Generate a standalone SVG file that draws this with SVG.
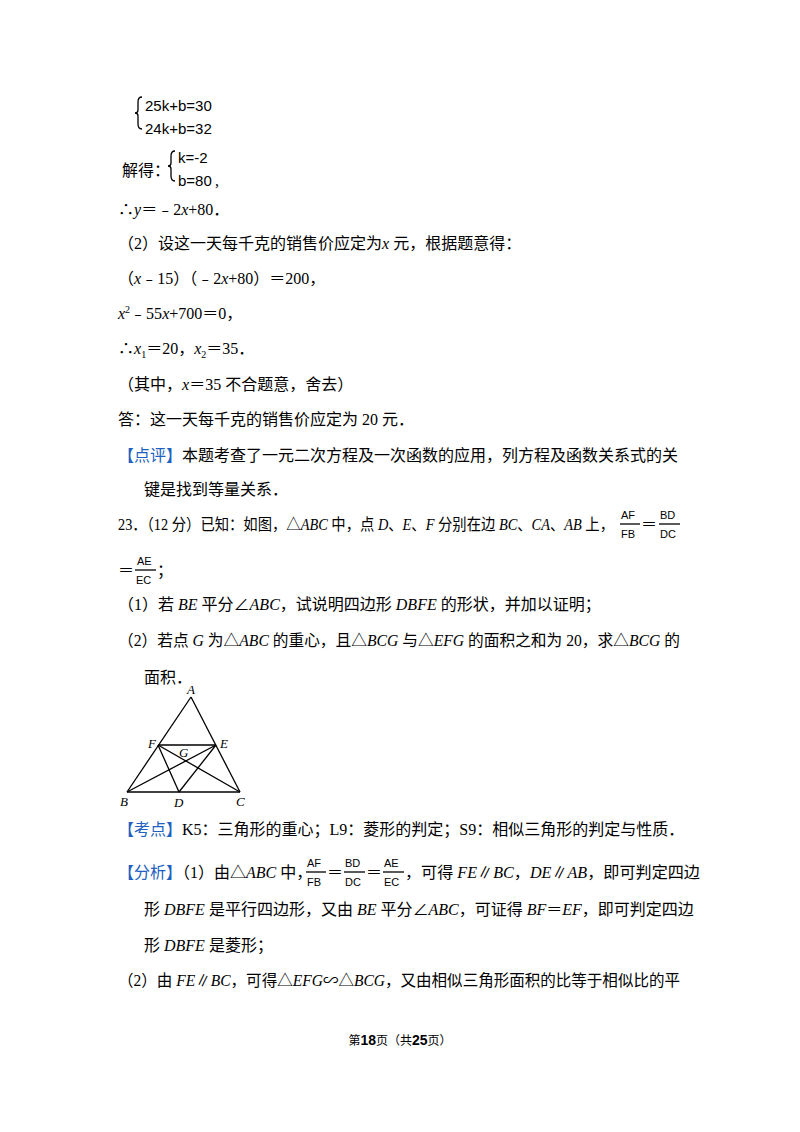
<svg xmlns="http://www.w3.org/2000/svg" width="800" height="1132" viewBox="0 0 800 1132">
<style>
text{font-family:"Liberation Serif","Noto Sans CJK SC",serif;font-size:16px;fill:#000}
.s{font-family:"Liberation Sans","Noto Sans CJK SC",sans-serif;font-size:15px}
.fr{font-family:"Liberation Sans",sans-serif;font-size:11px}
.b{fill:#2060c0}
.f{font-size:12px;font-family:"Liberation Sans","Noto Sans CJK SC",sans-serif}
line,path{stroke:#000;stroke-width:1.3;fill:none}
.lab{font-style:italic;font-size:13px}
</style>
<rect width="800" height="1132" fill="#fff"/>
<path d="M142,97 q-4,0 -4,5 v8 q0,3 -3,3 q3,0 3,3 v8 q0,5 4,5"/>
<text class="s" x="145" y="111">25k+b=30</text>
<text class="s" x="145" y="134">24k+b=32</text>
<text x="122" y="176">解得：</text>
<path d="M175,151 q-4,0 -4,5 v7 q0,3 -3,3 q3,0 3,3 v7 q0,5 4,5"/>
<text class="s" x="178" y="163">k=-2</text>
<text class="s" x="178" y="186">b=80</text><text x="215" y="186">,</text>
<text x="118" y="215">∴<tspan font-style="italic">y</tspan>＝﹣2<tspan font-style="italic">x</tspan>+80．</text>
<text x="118" y="249">（2）设这一天每千克的销售价应定为<tspan font-style="italic">x</tspan> 元，根据题意得：</text>
<text x="118" y="284">（<tspan font-style="italic">x</tspan>﹣15）（﹣2<tspan font-style="italic">x</tspan>+80）＝200，</text>
<text x="118" y="319"><tspan font-style="italic">x</tspan><tspan font-size="10" dy="-6">2</tspan><tspan dy="6">﹣55</tspan><tspan font-style="italic">x</tspan>+700＝0，</text>
<text x="118" y="354">∴<tspan font-style="italic">x</tspan><tspan font-size="10" dy="4">1</tspan><tspan dy="-4">＝20，</tspan><tspan font-style="italic">x</tspan><tspan font-size="10" dy="4">2</tspan><tspan dy="-4">＝35．</tspan></text>
<text x="118" y="390">（其中，<tspan font-style="italic">x</tspan>＝35 不合题意，舍去）</text>
<text x="118" y="425">答：这一天每千克的销售价应定为 20 元．</text>
<text x="118" y="461"><tspan class="b">【点评】</tspan>本题考查了一元二次方程及一次函数的应用，列方程及函数关系式的关</text>
<text x="144" y="495">键是找到等量关系．</text>
<text x="118" y="530" textLength="496" lengthAdjust="spacingAndGlyphs">23．（12 分）已知：如图，△<tspan font-style="italic">ABC</tspan> 中，点 <tspan font-style="italic">D</tspan>、<tspan font-style="italic">E</tspan>、<tspan font-style="italic">F</tspan> 分别在边 <tspan font-style="italic">BC</tspan>、<tspan font-style="italic">CA</tspan>、<tspan font-style="italic">AB</tspan> 上，</text>
<text class="fr" x="621" y="519">AF</text><line x1="620" y1="524" x2="640" y2="524"/><text class="fr" x="621" y="538">FB</text>
<text x="641" y="530">＝</text>
<text class="fr" x="660" y="519">BD</text><line x1="659" y1="524" x2="680" y2="524"/><text class="fr" x="660" y="538">DC</text>
<text x="118" y="576">＝</text>
<text class="fr" x="137" y="565">AE</text><line x1="135" y1="570" x2="156" y2="570"/><text class="fr" x="136" y="584">EC</text>
<text x="157" y="576">；</text>
<text x="118" y="610">（1）若 <tspan font-style="italic">BE</tspan> 平分∠<tspan font-style="italic">ABC</tspan>，试说明四边形 <tspan font-style="italic">DBFE</tspan> 的形状，并加以证明；</text>
<text x="118" y="646" textLength="562" lengthAdjust="spacingAndGlyphs">（2）若点 <tspan font-style="italic">G</tspan> 为△<tspan font-style="italic">ABC</tspan> 的重心，且△<tspan font-style="italic">BCG</tspan> 与△<tspan font-style="italic">EFG</tspan> 的面积之和为 20，求△<tspan font-style="italic">BCG</tspan> 的</text>
<text x="144" y="683">面积．</text>
<g id="figure">
<line x1="191" y1="697" x2="127" y2="792"/>
<line x1="191" y1="697" x2="240" y2="792"/>
<line x1="127" y1="792" x2="240" y2="792"/>
<line x1="158" y1="745" x2="216" y2="745"/>
<line x1="158" y1="745" x2="179" y2="792"/>
<line x1="216" y1="745" x2="179" y2="792"/>
<line x1="127" y1="792" x2="216" y2="745"/>
<line x1="240" y1="792" x2="158" y2="745"/>
<text class="lab" x="187" y="694">A</text>
<text class="lab" x="148" y="748">F</text>
<text class="lab" x="220" y="748">E</text>
<text class="lab" x="179" y="757">G</text>
<text class="lab" x="120" y="806">B</text>
<text class="lab" x="174" y="807">D</text>
<text class="lab" x="236" y="806">C</text>
</g>
<text x="118" y="835"><tspan class="b">【考点】</tspan>K5：三角形的重心；L9：菱形的判定；S9：相似三角形的判定与性质．</text>
<text x="118" y="878"><tspan class="b">【分析】</tspan>（1）由△<tspan font-style="italic">ABC</tspan> 中，</text>
<text class="fr" x="307" y="867">AF</text><line x1="306" y1="872" x2="326" y2="872"/><text class="fr" x="307" y="886">FB</text>
<text x="327" y="878">＝</text>
<text class="fr" x="345" y="867">BD</text><line x1="344" y1="872" x2="365" y2="872"/><text class="fr" x="345" y="886">DC</text>
<text x="366" y="878">＝</text>
<text class="fr" x="384" y="867">AE</text><line x1="383" y1="872" x2="404" y2="872"/><text class="fr" x="384" y="886">EC</text>
<text x="405" y="878" textLength="295" lengthAdjust="spacingAndGlyphs">，可得 <tspan font-style="italic">FE</tspan>∥<tspan font-style="italic">BC</tspan>，<tspan font-style="italic">DE</tspan>∥<tspan font-style="italic">AB</tspan>，即可判定四边</text>
<text x="144" y="915">形 <tspan font-style="italic">DBFE</tspan> 是平行四边形，又由 <tspan font-style="italic">BE</tspan> 平分∠<tspan font-style="italic">ABC</tspan>，可证得 <tspan font-style="italic">BF</tspan>＝<tspan font-style="italic">EF</tspan>，即可判定四边</text>
<text x="144" y="951">形 <tspan font-style="italic">DBFE</tspan> 是菱形；</text>
<text x="118" y="986" textLength="562" lengthAdjust="spacingAndGlyphs">（2）由 <tspan font-style="italic">FE</tspan>∥<tspan font-style="italic">BC</tspan>，可得△<tspan font-style="italic">EFG</tspan>∽△<tspan font-style="italic">BCG</tspan>，又由相似三角形面积的比等于相似比的平</text>
<text class="f" x="400" y="1045" text-anchor="middle">第<tspan font-weight="bold" font-size="14">18</tspan>页（共<tspan font-weight="bold" font-size="14">25</tspan>页）</text>
</svg>
